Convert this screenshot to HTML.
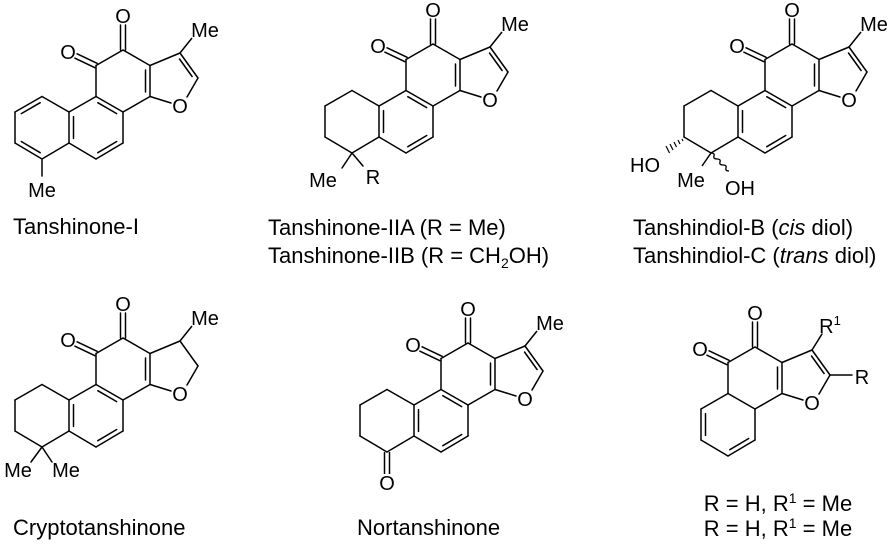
<!DOCTYPE html>
<html><head><meta charset="utf-8"><style>
html,body{margin:0;padding:0;background:#fff;}
svg{display:block;}
text{font-family:"Liberation Sans",Arial,sans-serif;font-size:20px;fill:#000;}
.lab{font-size:22px;}
</style></head><body>
<svg width="890" height="544" viewBox="0 0 890 544" xmlns="http://www.w3.org/2000/svg">
<defs>
<g id="core" stroke="#000" stroke-width="1.5" fill="none" stroke-linecap="round">
  <line x1="96" y1="65.5" x2="123" y2="50"/>
  <line x1="123" y1="50" x2="150" y2="65.5"/>
  <line x1="150" y1="65.5" x2="150" y2="96.5"/>
  <line x1="145.5" y1="70" x2="145.5" y2="92"/>
  <line x1="150" y1="96.5" x2="123" y2="112"/>
  <line x1="123" y1="112" x2="96" y2="96.5"/>
  <line x1="96" y1="96.5" x2="96" y2="65.5"/>
  <line x1="120.5" y1="50" x2="120.5" y2="25"/>
  <line x1="125.5" y1="50" x2="125.5" y2="25"/>
  <line x1="97.1" y1="63.3" x2="77.1" y2="53.8"/>
  <line x1="94.9" y1="67.7" x2="74.9" y2="58.2"/>
  <line x1="150" y1="65.5" x2="180" y2="53"/>
  <line x1="150" y1="96.5" x2="171" y2="103"/>
  <line x1="198" y1="78" x2="187" y2="97"/>
  <line x1="180" y1="53" x2="198" y2="78"/>
  <line x1="123" y1="112" x2="123" y2="143"/>
  <line x1="123" y1="143" x2="96" y2="159"/>
  <line x1="96" y1="159" x2="69" y2="143"/>
  <line x1="69" y1="143" x2="69" y2="112"/>
  <line x1="69" y1="112" x2="96" y2="96.5"/>
  <line x1="116.7" y1="141.5" x2="97.8" y2="152.7"/>
  <line x1="73.5" y1="116.6" x2="73.5" y2="138.4"/>
</g>
<g id="satA" stroke="#000" stroke-width="1.5" fill="none" stroke-linecap="round">
  <line x1="69" y1="112" x2="42" y2="96.5"/>
  <line x1="42" y1="96.5" x2="15" y2="112"/>
  <line x1="15" y1="112" x2="15" y2="143"/>
  <line x1="15" y1="143" x2="42" y2="159"/>
  <line x1="42" y1="159" x2="69" y2="143"/>
</g>
<g id="bdbl" stroke="#000" stroke-width="1.5" stroke-linecap="round">
  <line x1="97.8" y1="102.7" x2="116.7" y2="113.6"/>
</g>
<g id="furdbl" stroke="#000" stroke-width="1.5" stroke-linecap="round">
  <line x1="179.5" y1="59" x2="192.1" y2="76.5"/>
</g>
<g id="melab">
  <line x1="180" y1="53" x2="192" y2="38" stroke="#000" stroke-width="1.5"/>
  <text x="205" y="37" text-anchor="middle">Me</text>
</g>
<g id="olab">
  <text x="123" y="23" text-anchor="middle">O</text>
  <text x="68" y="59" text-anchor="middle">O</text>
  <text x="180" y="113" text-anchor="middle">O</text>
</g>
</defs>

<g>
  <use href="#core"/><use href="#satA"/><use href="#bdbl"/><use href="#furdbl"/><use href="#melab"/><use href="#olab"/>
  <g stroke="#000" stroke-width="1.5" stroke-linecap="round">
    <line x1="40.2" y1="152.7" x2="21.3" y2="141.5"/>
    <line x1="21.3" y1="113.6" x2="40.2" y2="102.7"/>
    <line x1="42" y1="159" x2="42" y2="176"/>
  </g>
  <text x="42" y="197" text-anchor="middle">Me</text>
</g>

<g transform="translate(310,-6)">
  <use href="#core"/><use href="#satA"/><use href="#bdbl"/><use href="#furdbl"/><use href="#melab"/><use href="#olab"/>
  <g stroke="#000" stroke-width="1.5" stroke-linecap="round">
    <line x1="42" y1="159" x2="32" y2="174"/>
    <line x1="42" y1="159" x2="53" y2="172"/>
  </g>
  <text x="13" y="193" text-anchor="middle">Me</text>
  <text x="63" y="190" text-anchor="middle">R</text>
</g>

<g transform="translate(669,-6)">
  <use href="#core"/><use href="#satA"/><use href="#bdbl"/><use href="#furdbl"/><use href="#melab"/><use href="#olab"/>
  <g stroke="#000" stroke-width="1.2">
    <line x1="13" y1="145" x2="14" y2="147"/>
    <line x1="9" y1="146" x2="11" y2="150"/>
    <line x1="5" y1="148" x2="7.5" y2="153"/>
    <line x1="1" y1="150" x2="4" y2="156"/>
    <line x1="-3" y1="152" x2="0.5" y2="159"/>
  </g>
  <line x1="42" y1="159" x2="33" y2="172" stroke="#000" stroke-width="1.5"/>
  <path d="M42 159 q4 0 3 3 q-1 3 3 3 q4 0 3 3 q-1 3 3 3 q4 0 3 3 q-1 3 3 3" stroke="#000" stroke-width="1.3" fill="none"/>
  <text x="-24" y="178" text-anchor="middle">HO</text>
  <text x="22" y="193" text-anchor="middle">Me</text>
  <text x="71" y="201" text-anchor="middle">OH</text>
</g>

<g transform="translate(0,288)">
  <use href="#core"/><use href="#satA"/><use href="#bdbl"/><use href="#melab"/><use href="#olab"/>
  <g stroke="#000" stroke-width="1.5" stroke-linecap="round">
    <line x1="42" y1="159" x2="31" y2="174"/>
    <line x1="42" y1="159" x2="52" y2="174"/>
  </g>
  <text x="18" y="189" text-anchor="middle">Me</text>
  <text x="66" y="189" text-anchor="middle">Me</text>
</g>

<g transform="translate(345,293)">
  <use href="#core"/><use href="#satA"/><use href="#bdbl"/><use href="#furdbl"/><use href="#melab"/><use href="#olab"/>
  <g stroke="#000" stroke-width="1.5">
    <line x1="39.5" y1="159" x2="39.5" y2="181"/>
    <line x1="44.5" y1="159" x2="44.5" y2="181"/>
  </g>
  <text x="42" y="197" text-anchor="middle">O</text>
</g>

<g transform="translate(632,297)">
  <use href="#core"/><use href="#furdbl"/><use href="#olab"/>
  <g stroke="#000" stroke-width="1.5" stroke-linecap="round">
    <line x1="180" y1="53" x2="190" y2="37"/>
    <line x1="198" y1="78" x2="220" y2="78"/>
  </g>
  <text x="198" y="36" text-anchor="middle">R<tspan dy="-8" font-size="13">1</tspan></text>
  <text x="230" y="87" text-anchor="middle">R</text>
</g>

<text class="lab" x="13" y="234">Tanshinone-I</text>
<text class="lab" x="268" y="235">Tanshinone-IIA (R = Me)</text>
<text class="lab" x="268" y="263">Tanshinone-IIB (R = CH<tspan dy="5" font-size="14">2</tspan><tspan dy="-5">OH)</tspan></text>
<text class="lab" x="633" y="235">Tanshindiol-B (<tspan font-style="italic">cis</tspan> diol)</text>
<text class="lab" x="633" y="263">Tanshindiol-C (<tspan font-style="italic">trans</tspan> diol)</text>
<text class="lab" x="13" y="535">Cryptotanshinone</text>
<text class="lab" x="357" y="535">Nortanshinone</text>
<text class="lab" x="778" y="511" text-anchor="middle">R = H, R<tspan dy="-8" font-size="14">1</tspan><tspan dy="8"> = Me</tspan></text>
<text class="lab" x="778" y="536" text-anchor="middle">R = H, R<tspan dy="-8" font-size="14">1</tspan><tspan dy="8"> = Me</tspan></text>
</svg>
</body></html>
